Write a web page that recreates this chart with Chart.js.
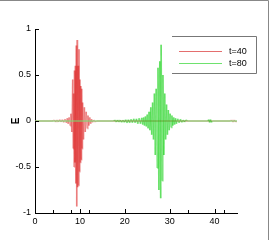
<!DOCTYPE html>
<html>
<head>
<meta charset="utf-8">
<script src="https://cdn.jsdelivr.net/npm/chart.js@4/dist/chart.umd.min.js"></script>
<style>
  html, body { margin: 0; padding: 0; background: #fff; }
</style>
</head>
<body>
<canvas id="myChart" width="270" height="240"></canvas>
<script>
const seriesLabels = ["t=40", "t=80"];

// t=40 packet (red)
const redX = [0, 4.0, 4.3, 4.6, 4.9, 5.2, 5.5, 5.8, 6.1, 6.4, 6.7, 7.0, 7.2, 7.4, 7.6, 7.8,
  8.0, 8.2, 8.4, 8.5, 8.6, 8.7, 8.8, 8.9, 9.0, 9.1, 9.2, 9.3, 9.4, 9.5, 9.6, 9.7, 9.8, 9.9, 10.0,
  10.1, 10.2, 10.3, 10.4, 10.5, 10.6, 10.8,
  11.0, 11.2, 11.4, 11.6, 11.8, 12.0, 12.2, 12.4, 12.6, 12.8, 13.1, 13.4, 13.7,
  43.5, 43.8, 44.1, 44.4, 44.7, 45];
const redY = [0, 0, 0.01, -0.01, 0.01, -0.01, 0.015, -0.01, 0.015, -0.015, 0.02, -0.02, 0.03, -0.03, 0.04, -0.05,
  0.08, -0.12, 0.45, -0.3, 0.3, -0.5, 0.55, -0.45, 0.6, -0.68, 0.82, -0.93, 0.88, -0.72, 0.6, -0.7, 0.78, -0.55, 0.45,
  -0.45, 0.38, -0.42, 0.35, -0.3, 0.2, -0.2,
  0.15, -0.12, 0.1, -0.08, 0.06, -0.05, 0.04, -0.03, 0.02, -0.015, 0.01, -0.01, 0,
  0, 0.01, -0.01, 0.01, -0.01, 0];

// t=80 packet (green)
const greenX = [0, 17.5, 17.8, 18.1, 18.4, 18.7, 19.0, 19.3, 19.6, 19.9, 20.2, 20.5, 20.8, 21.1, 21.4, 21.7,
  22.0, 22.3, 22.6, 22.9, 23.2, 23.5, 23.8, 24.0, 24.2, 24.4, 24.6, 24.8, 25.0, 25.2, 25.4, 25.6,
  25.8, 26.0, 26.2, 26.4, 26.6, 26.8, 27.0, 27.2, 27.4, 27.6, 27.8, 28.0, 28.1, 28.3, 28.5, 28.7,
  28.9, 29.1, 29.3, 29.5, 29.7, 29.9, 30.1, 30.3, 30.5, 30.7, 30.9, 31.1, 31.3, 31.5, 31.8, 32.1,
  32.4, 32.7, 33.0, 33.3, 33.6, 34.0, 38.5, 38.7, 38.9, 39.1, 39.3, 39.5, 45];
const greenY = [0, 0, 0.01, -0.01, 0.01, -0.01, 0.01, -0.015, 0.01, -0.015, 0.015, -0.02, 0.015, -0.02, 0.02, -0.02,
  0.025, -0.02, 0.025, -0.03, 0.03, -0.03, 0.035, -0.04, 0.04, -0.05, 0.05, -0.06, 0.07, -0.08, 0.1, -0.1,
  0.15, -0.15, 0.2, -0.2, 0.3, -0.37, 0.35, -0.51, 0.58, -0.75, 0.65, -0.84, 0.83, -0.65, 0.5, -0.37,
  0.3, -0.2, 0.18, -0.15, 0.12, -0.1, 0.08, -0.07, 0.06, -0.05, 0.04, -0.04, 0.03, -0.03, 0.025, -0.02,
  0.02, -0.015, 0.01, -0.01, 0.01, 0, 0, 0.015, -0.015, 0.015, -0.015, 0, 0];

const xTicks = [0, 10, 20, 30, 40];
const xMinorTicks = [4, 8, 12, 34, 42];
const yTicks = [-1, -0.5, 0, 0.5, 1];

const lineColors = ["rgba(215, 0, 0, 0.3)", "rgba(0, 205, 0, 0.38)"];
const altColors = ["rgba(216, 0, 0, 0.3)", "rgba(0, 206, 0, 0.38)"];
const legendColors = ["rgb(228, 110, 110)", "rgb(110, 226, 110)"];

function toPoints(xs, ys) {
  return xs.map((v, i) => ({ x: v, y: ys[i] }));
}

// every segment gets its own stroke, so overlapping strokes build up darker
function segStyle(i) {
  const flat = (c) => c.p0.parsed.y === 0 && c.p1.parsed.y === 0;
  return {
    borderColor: (c) => (flat(c) ? legendColors[i] : c.p0DataIndex % 2 ? lineColors[i] : altColors[i]),
    borderWidth: (c) => (flat(c) ? 1 : 1.6),
  };
}

const axisDecor = {
  id: "axisDecor",
  afterDraw(chart) {
    const { ctx, chartArea: a, scales } = chart;
    const x = scales.x, y = scales.y;
    ctx.save();
    ctx.strokeStyle = "#000";
    ctx.lineWidth = 1;
    ctx.beginPath();
    xTicks.forEach((v) => {
      const px = Math.round(x.getPixelForValue(v)) + 0.5;
      ctx.moveTo(px, a.bottom);
      ctx.lineTo(px, a.bottom - 4);
    });
    xMinorTicks.forEach((v) => {
      const px = Math.round(x.getPixelForValue(v)) + 0.5;
      ctx.moveTo(px, a.bottom);
      ctx.lineTo(px, a.bottom - 3);
    });
    yTicks.forEach((v) => {
      const py = Math.round(y.getPixelForValue(v)) + 0.5;
      ctx.moveTo(a.left, py);
      ctx.lineTo(a.left + 4, py);
    });
    ctx.stroke();

    // y title
    ctx.fillStyle = "#000";
    ctx.font = "bold 10px 'Liberation Sans', Arial, sans-serif";
    ctx.textAlign = "center";
    ctx.textBaseline = "middle";
    ctx.translate(16, y.getPixelForValue(0));
    ctx.rotate(-Math.PI / 2);
    ctx.fillText("E", 0, 0);
    ctx.setTransform(1, 0, 0, 1, 0, 0);

    // legend box (top, right, bottom edges)
    ctx.strokeStyle = "#777";
    ctx.beginPath();
    ctx.moveTo(172, 36.5);
    ctx.lineTo(256.5, 36.5);
    ctx.lineTo(256.5, 73.5);
    ctx.lineTo(172, 73.5);
    ctx.stroke();
    ctx.font = "9px 'Liberation Sans', Arial, sans-serif";
    ctx.textAlign = "left";
    seriesLabels.forEach((lab, i) => {
      const ly = 51 + i * 12;
      ctx.fillStyle = legendColors[i];
      ctx.fillRect(179, ly, 43, 1);
      ctx.fillStyle = "#000";
      ctx.fillText(lab, 229, ly + 0.5);
    });

    // outer frame
    ctx.strokeStyle = "#888";
    ctx.beginPath();
    ctx.moveTo(0, 0.5);
    ctx.lineTo(268.5, 0.5);
    ctx.lineTo(268.5, 240);
    ctx.stroke();
    ctx.restore();
  },
};

Chart.defaults.font.family = "'Liberation Sans', Arial, sans-serif";
Chart.defaults.font.size = 9;
Chart.defaults.color = "#000";

const ctx = document.getElementById("myChart").getContext("2d");
new Chart(ctx, {
  type: "line",
  data: {
    datasets: [
      {
        label: seriesLabels[0],
        data: toPoints(redX, redY),
        borderColor: lineColors[0],
        borderWidth: 1,
        pointRadius: 0,
        order: 1,
        segment: segStyle(0),
      },
      {
        label: seriesLabels[1],
        data: toPoints(greenX, greenY),
        borderColor: lineColors[1],
        borderWidth: 1,
        pointRadius: 0,
        order: 0,
        segment: segStyle(1),
      },
    ],
  },
  options: {
    responsive: false,
    animation: false,
    devicePixelRatio: 1,
    layout: { padding: { top: 29, right: 33, left: 0, bottom: 0 } },
    plugins: { legend: { display: false }, tooltip: { enabled: false } },
    scales: {
      x: {
        type: "linear",
        min: 0,
        max: 45,
        afterBuildTicks: (s) => { s.ticks = xTicks.map((v) => ({ value: v })); },
        afterFit: (s) => { s.height = 27; },
        grid: { display: true, drawOnChartArea: false, drawTicks: false },
        border: { display: true, color: "#000", width: 1 },
        ticks: { padding: 3, maxRotation: 0, callback: (v) => String(v) },
      },
      y: {
        type: "linear",
        min: -1,
        max: 1,
        afterBuildTicks: (s) => { s.ticks = yTicks.map((v) => ({ value: v })); },
        afterFit: (s) => { s.width = 35; },
        grid: { display: true, drawOnChartArea: false, drawTicks: false },
        border: { display: true, color: "#000", width: 1 },
        ticks: { padding: 4, callback: (v) => String(v) },
      },
    },
  },
  plugins: [axisDecor],
});
</script>
</body>
</html>
